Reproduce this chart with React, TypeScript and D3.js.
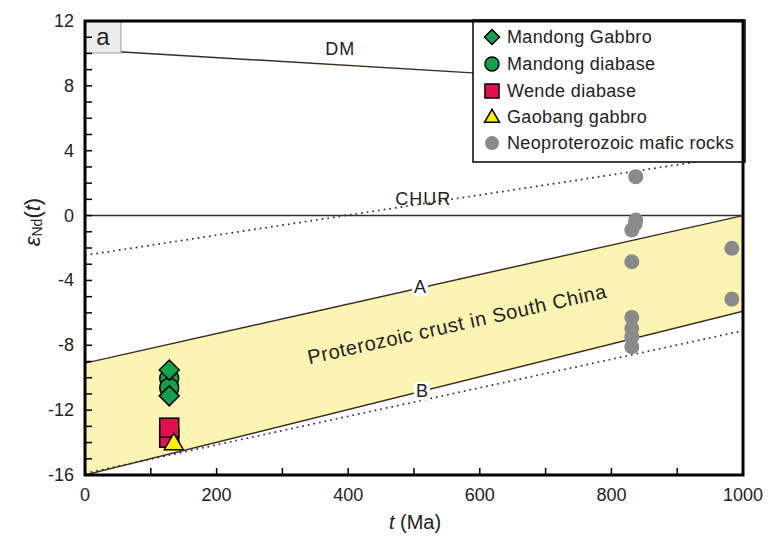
import React from "react";
import * as d3 from "d3";

const W = 768;
const H = 539;

// x (Ma) ticks and y (eNd) ticks
const xMajorTicks = [0, 200, 400, 600, 800, 1000];
const xMinorTicks = [100, 300, 500, 700, 900];
const yMajorTicks = [12, 8, 4, 0, -4, -8, -12, -16];

// Reference lines [age, eNd]
const dmLine: [number, number][] = [[0, 10.23], [1000, 7.8]];
const churLine: [number, number][] = [[0, 0], [1000, 0]];
const lineA: [number, number][] = [[0, -9.1], [1000, 0]];
const lineB: [number, number][] = [[0, -16], [1000, -5.9]];
const dottedUpper: [number, number][] = [[0, -2.45], [1000, 3.75]];
const dottedLower: [number, number][] = [[0, -15.9], [1000, -7.1]];

// Data series
const mandongGabbroAge = [128, 128];
const mandongGabbroEnd = [-9.53, -11.12];
const mandongDiabaseAge = [128, 128];
const mandongDiabaseEnd = [-10.05, -10.62];
const wendeDiabaseAge = [128, 128];
const wendeDiabaseEnd = [-13.08, -13.7];
const gaobangGabbroAge = [135];
const gaobangGabbroEnd = [-14.1];
const neoAge = [837, 837, 836, 831, 831, 983, 983, 831, 831, 831, 831];
const neoEnd = [2.4, -0.27, -0.52, -0.89, -2.85, -2.02, -5.15, -6.28, -6.96, -7.47, -8.09];

const legendLabels = [
  "Mandong Gabbro",
  "Mandong diabase",
  "Wende diabase",
  "Gaobang gabbro",
  "Neoproterozoic mafic rocks",
];

const GREEN = "#13a04b";
const RED = "#e0114f";
const YELLOW = "#fff000";
const GRAY = "#8a8a8a";
const LINE = "#3b2c22";
const BAND = "#fcf4b3";
const FONT = "'Liberation Sans', Arial, sans-serif";

const x = d3.scaleLinear().domain([0, 1000]).range([85, 743]);
const y = d3.scaleLinear().domain([-16, 12]).range([475, 21]);

const lineGen = d3
  .line<[number, number]>()
  .x((d) => x(d[0]))
  .y((d) => y(d[1]));

function Diamond({ cx, cy, s }: { cx: number; cy: number; s: number }) {
  const h = s / 2;
  return (
    <path
      d={`M${cx},${cy - h}L${cx + h},${cy}L${cx},${cy + h}L${cx - h},${cy}Z`}
      fill={GREEN}
      stroke="#000"
      strokeWidth={1.5}
    />
  );
}
function Square({ cx, cy, s }: { cx: number; cy: number; s: number }) {
  return (
    <rect x={cx - s / 2} y={cy - s / 2} width={s} height={s} fill={RED} stroke="#000" strokeWidth={1.5} />
  );
}
function Triangle({ cx, cy, s }: { cx: number; cy: number; s: number }) {
  const h = (s * Math.sqrt(3)) / 2;
  return (
    <path
      d={`M${cx},${cy - (2 * h) / 3}L${cx + s / 2},${cy + h / 3}L${cx - s / 2},${cy + h / 3}Z`}
      fill={YELLOW}
      stroke="#000"
      strokeWidth={1.5}
    />
  );
}

export default function App() {
  const bandPath =
    `M${x(lineA[0][0])},${y(lineA[0][1])}L${x(lineA[1][0])},${y(lineA[1][1])}` +
    `L${x(lineB[1][0])},${y(lineB[1][1])}L${x(lineB[0][0])},${y(lineB[0][1])}Z`;

  const angle = (Math.atan2(y(lineA[0][1]) - y(lineA[1][1]), x(1000) - x(0)) * 180) / Math.PI;

  const lgX = 473;
  const lgY = 20;
  const lgW = 272;
  const lgH = 142;
  const rowY = [37, 64, 91, 117, 143];

  return (
    <svg
      width={W}
      height={H}
      style={{ position: "absolute", left: 0, top: 0, background: "#fff" }}
      fontFamily={FONT}
    >
      <defs>
        <clipPath id="plotClip">
          <rect x={x(0)} y={y(12)} width={x(1000) - x(0)} height={y(-16) - y(12)} />
        </clipPath>
      </defs>
      <rect width={W} height={H} fill="#fff" />
      <g clipPath="url(#plotClip)">
        <path d={bandPath} fill={BAND} />
        <path d={lineGen(dottedUpper) || ""} fill="none" stroke={LINE} strokeWidth={1.7} strokeDasharray="1.7,4" />
        <path d={lineGen(dottedLower) || ""} fill="none" stroke={LINE} strokeWidth={1.7} strokeDasharray="1.7,4" />
        <path d={lineGen(churLine) || ""} fill="none" stroke={LINE} strokeWidth={1.4} />
        <path d={lineGen(dmLine) || ""} fill="none" stroke={LINE} strokeWidth={1.4} />
        <path d={lineGen(lineA) || ""} fill="none" stroke={LINE} strokeWidth={1.4} />
        <path d={lineGen(lineB) || ""} fill="none" stroke={LINE} strokeWidth={1.4} />
      </g>

      {/* Line labels */}
      <text x={x(388)} y={y(10.3) + 6} fontSize={18} fill="#222" textAnchor="middle" letterSpacing={1}>
        DM
      </text>
      <text x={x(514)} y={y(0.95)} fontSize={18} fill="#222" textAnchor="middle" dominantBaseline="middle" letterSpacing={1}>
        CHUR
      </text>
      <rect x={x(509) - 8} y={y(-4.42) - 9} width={16} height={18} fill="#fff" />
      <text x={x(509)} y={y(-4.42)} fontSize={18} fill="#222" textAnchor="middle" dominantBaseline="central">
        A
      </text>
      <rect x={x(512) - 8} y={y(-10.83) - 9} width={16} height={18} fill="#fff" />
      <text x={x(512)} y={y(-10.83)} fontSize={18} fill="#222" textAnchor="middle" dominantBaseline="central">
        B
      </text>
      <text
        x={457}
        y={324}
        fontSize={20}
        fill="#222"
        textAnchor="middle"
        dominantBaseline="central"
        letterSpacing={0.6}
        transform={`rotate(${-angle},457,324)`}
      >
        Proterozoic crust in South China
      </text>

      {/* Data points */}
      {neoAge.map((a, i) => (
        <circle key={"n" + i} cx={x(a)} cy={y(neoEnd[i])} r={7.5} fill={GRAY} />
      ))}
      {mandongDiabaseAge.map((a, i) => (
        <circle key={"md" + i} cx={x(a)} cy={y(mandongDiabaseEnd[i])} r={9.5} fill={GREEN} stroke="#000" strokeWidth={1.5} />
      ))}
      {mandongGabbroAge.map((a, i) => (
        <Diamond key={"mg" + i} cx={x(a)} cy={y(mandongGabbroEnd[i])} s={20} />
      ))}
      {wendeDiabaseAge
        .map((a, i) => ({ a, v: wendeDiabaseEnd[i], i }))
        .reverse()
        .map((d) => (
          <Square key={"w" + d.i} cx={x(d.a)} cy={y(d.v)} s={19} />
        ))}
      {gaobangGabbroAge.map((a, i) => (
        <Triangle key={"g" + i} cx={x(a)} cy={y(gaobangGabbroEnd[i])} s={19} />
      ))}

      {/* Legend */}
      <rect x={lgX} y={lgY} width={lgW} height={lgH} fill="#fff" stroke="#000" strokeWidth={1.5} />
      <Diamond cx={492} cy={rowY[0]} s={15} />
      <circle cx={492} cy={rowY[1]} r={7} fill={GREEN} stroke="#000" strokeWidth={1.5} />
      <rect x={485} y={rowY[2] - 7} width={14} height={14} fill={RED} stroke="#000" strokeWidth={1.5} />
      <Triangle cx={492} cy={rowY[3] + 1} s={15} />
      <circle cx={492} cy={rowY[4]} r={7} fill={GRAY} />
      {legendLabels.map((t, i) => (
        <text key={t} x={507} y={rowY[i]} fontSize={18} letterSpacing={0.35} fill="#222" dominantBaseline="central">
          {t}
        </text>
      ))}

      {/* Panel label */}
      <rect x={x(0)} y={y(12)} width={36} height={32} fill="#ececec" stroke="#999" strokeWidth={1} />
      <text x={x(0) + 18} y={y(12) + 15} fontSize={24} fill="#222" textAnchor="middle" dominantBaseline="central">
        a
      </text>

      {/* Ticks */}
      {d3.range(-15, 12, 1).map((v) => (
        <line key={"yt" + v} x1={x(0)} x2={x(0) + 7} y1={y(v)} y2={y(v)} stroke="#000" strokeWidth={1.5} />
      ))}
      {[...xMajorTicks, ...xMinorTicks].map((v) => (
        <line key={"xt" + v} x1={x(v)} x2={x(v)} y1={y(-16)} y2={y(-16) - 7} stroke="#000" strokeWidth={1.5} />
      ))}

      {/* Frame */}
      <rect
        x={x(0)}
        y={y(12)}
        width={x(1000) - x(0)}
        height={y(-16) - y(12)}
        fill="none"
        stroke="#000"
        strokeWidth={3}
      />

      {/* Tick labels */}
      {yMajorTicks.map((v) => (
        <text key={"yl" + v} x={x(0) - 11} y={y(v)} fontSize={18} fill="#222" textAnchor="end" dominantBaseline="central">
          {v}
        </text>
      ))}
      {xMajorTicks.map((v) => (
        <text key={"xl" + v} x={x(v)} y={y(-16) + 20} fontSize={18} fill="#222" textAnchor="middle" dominantBaseline="central">
          {v}
        </text>
      ))}

      {/* Axis titles */}
      <text x={415} y={522} fontSize={20} fill="#222" textAnchor="middle" dominantBaseline="central">
        <tspan fontStyle="italic">t</tspan> (Ma)
      </text>
      <text
        x={32}
        y={222}
        fontSize={22}
        fill="#222"
        textAnchor="middle"
        dominantBaseline="central"
        transform="rotate(-90,32,222)"
      >
        <tspan fontStyle="italic">ε</tspan>
        <tspan fontSize={14} dy={5}>Nd</tspan>
        <tspan dy={-5}>(</tspan>
        <tspan fontStyle="italic">t</tspan>
        <tspan>)</tspan>
      </text>
    </svg>
  );
}
